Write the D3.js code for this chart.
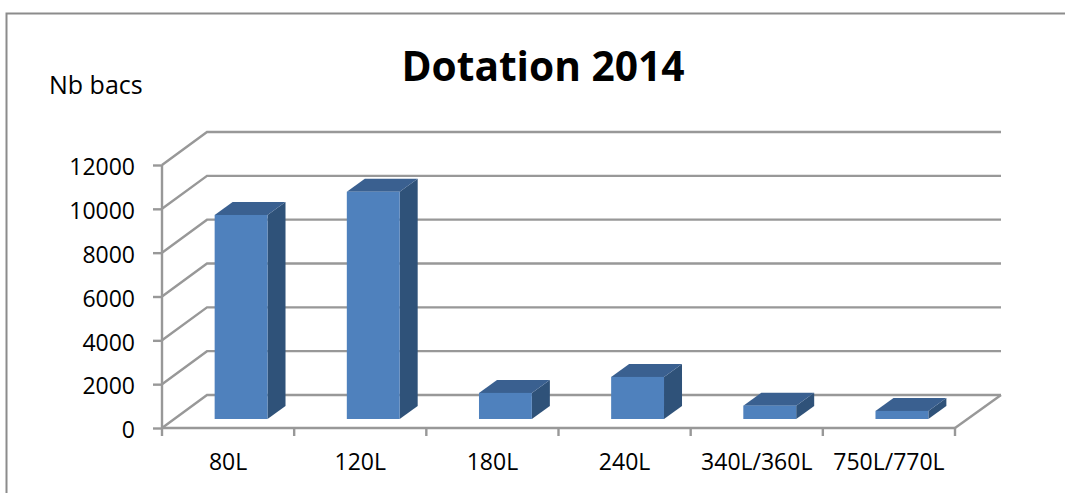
<!doctype html>
<meta charset="utf-8">
<style>
  html, body { margin: 0; background: #fff; overflow: hidden; }
  text { font-family: "Open Sans", sans-serif; fill: #000; }
  .axis path, .axis line, .grid { stroke: #989898; stroke-width: 2.4; fill: none; }
</style>
<body>
<script src="https://d3js.org/d3.v7.min.js"></script>
<script>
var categories = ['80L', '120L', '180L', '240L', '340L/360L', '750L/770L'];
var values = [9310, 10370, 1190, 1920, 610, 370];
var yTicks = [0, 2000, 4000, 6000, 8000, 10000, 12000];

var width = 1065, height = 493,
  x0 = 162, x1 = 955, y0 = 428, y1 = 165,
  wallDx = 45, wallDy = -33, // depth of the 3d box
  barDx = 18, barDy = -13, // depth of one bar
  barInset = [13, -9]; // bars sit a little behind the front edge

var svg = d3.select('body').append('svg').attr('width', width).attr('height', height);

var x = d3.scaleBand().domain(categories).range([x0, x1]).paddingInner(0.6).paddingOuter(0.3);
var band = d3.scaleBand().domain(categories).range([x0, x1]);
var y = d3.scaleLinear().domain([0, 12000]).range([y0, y1]);

// frame
svg.append('path').attr('d', 'M6.5,' + height + 'V13.5H' + width)
  .attr('fill', 'none').attr('stroke', '#8c8c8c').attr('stroke-width', 2);

// walls and floor
svg.selectAll('path.grid').data(yTicks).enter().append('path')
  .attr('class', 'grid')
  .attr('d', function(d){
    return 'M' + x0 + ',' + y(d) + 'l' + wallDx + ',' + wallDy + 'H' + (x1 + wallDx + 1);
  });
svg.append('path').attr('class', 'grid')
  .attr('d', 'M' + x1 + ',' + y0 + 'L' + (x1 + wallDx + 1) + ',' + (y0 + wallDy));

// axes
var yAxis = d3.axisLeft(y).tickValues(yTicks).tickSize(9).tickPadding(18).tickFormat(d3.format('d'));
svg.append('g').attr('class', 'axis').attr('transform', 'translate(' + x0 + ',0)').call(yAxis)
  .call(function(g){ g.select('.domain').attr('d', 'M0,' + y1 + 'V' + y0); })
  .selectAll('text').attr('dy', '0.42em').style('font-size', '23px');

var xAxis = d3.axisBottom(band).tickSize(0).tickPadding(26);
svg.append('g').attr('class', 'axis').attr('transform', 'translate(0,' + y0 + ')').call(xAxis)
  .call(function(g){ g.select('.domain').attr('d', 'M' + x0 + ',0H' + x1); })
  .selectAll('text').style('font-size', '23px');

// tick marks between the categories
svg.selectAll('line.sep').data(d3.range(categories.length + 1)).enter().append('line')
  .attr('class', 'grid')
  .attr('x1', function(i){ return x0 + i * band.step(); })
  .attr('x2', function(i){ return x0 + i * band.step(); })
  .attr('y1', y0).attr('y2', y0 + 8);

// bars
var bars = svg.selectAll('g.bar').data(values).enter().append('g').attr('class', 'bar')
  .attr('transform', function(d, i){
    return 'translate(' + (x(categories[i]) + barInset[0]) + ',' + barInset[1] + ')';
  });
var w = x.bandwidth();
bars.append('path').attr('fill', '#2f5279')
  .attr('d', function(d){
    return 'M' + w + ',' + y(d) + 'l' + barDx + ',' + barDy + 'V' + (y0 + barDy) + 'l' + (-barDx) + ',' + (-barDy) + 'Z';
  });
bars.append('path').attr('fill', '#3a6090')
  .attr('d', function(d){
    return 'M0,' + y(d) + 'l' + barDx + ',' + barDy + 'h' + w + 'l' + (-barDx) + ',' + (-barDy) + 'Z';
  });
bars.append('rect').attr('fill', '#4f81bd')
  .attr('x', 0).attr('width', w)
  .attr('y', function(d){ return y(d); })
  .attr('height', function(d){ return y0 - y(d); });

// titles
svg.append('text').attr('x', 543).attr('y', 81).attr('text-anchor', 'middle')
  .style('font-size', '40.7px').style('font-weight', 700).text('Dotation 2014');
svg.append('text').attr('x', 49).attr('y', 94).style('font-size', '25px').text('Nb bacs');
</script>
</body>
